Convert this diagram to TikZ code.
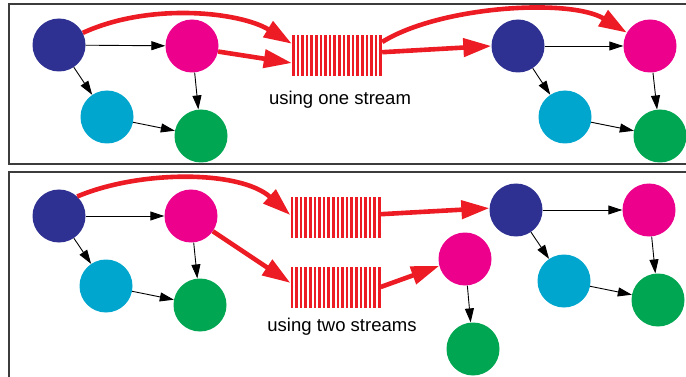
\documentclass[tikz,border=0pt]{standalone}
\usepackage{fontspec}
\setmainfont{Liberation Sans}
\usepackage{xcolor}
\usepackage{tikz}
\usetikzlibrary{positioning}
\usetikzlibrary{arrows.meta}

\definecolor{colnavy}{RGB}{46,49,146}
\definecolor{colmag}{RGB}{236,0,140}
\definecolor{colcyan}{RGB}{0,166,206}
\definecolor{colgreen}{RGB}{0,166,81}
\definecolor{colred}{RGB}{237,28,36}
\definecolor{colframe}{RGB}{60,60,60}

\begin{document}
\begin{tikzpicture}[
      x=1pt, y=-1pt,
      mynode/.style={circle,minimum size=53pt,inner sep=0pt},
      stream/.style={minimum width=94pt,minimum height=41pt,inner sep=0pt,
        path picture={\foreach \k in {0,...,19}
          \fill[colred] ([xshift=\k*4.6pt]path picture bounding box.south west)
            rectangle ([xshift=\k*4.6pt+2.6pt]path picture bounding box.north west);}},
      link/.style={-{Triangle[length=14pt,width=9pt]},line width=0.9pt},
      flow/.style={-{Triangle[length=28pt,width=18pt]},line width=4.6pt,colred},
      frame/.style={draw=colframe,line width=1.1pt},
      lbl/.style={font=\fontsize{18.5}{22}\selectfont}
      ]
      \useasboundingbox (0,0) rectangle (686,377);

      % frames
      \draw[frame] (690,4) -- (9,4) -- (9,164) -- (690,164);
      \draw[frame] (690,172) -- (9,172) -- (9,380);

      % top: one stream
      \node[mynode, fill=colnavy] (na1) at (59,45) {};
      \node[mynode, fill=colmag] (mg1) at (192,46) {};
      \node[mynode, fill=colcyan] (cy1) at (107,117) {};
      \node[mynode, fill=colgreen] (gr1) at (201,136) {};

      \node[stream] (st1) at (339,55.5) {};
      \node[lbl] (txt1) at (340,100) {using one stream};

      \node[mynode, fill=colnavy] (na2) at (518,46) {};
      \node[mynode, fill=colmag] (mg2) at (650,46) {};
      \node[mynode, fill=colcyan] (cy2) at (565,117) {};
      \node[mynode, fill=colgreen] (gr2) at (660,136) {};

      \path (na1) edge[link] (mg1)
      (na1) edge[link] (cy1)
      (cy1) edge[link] (gr1)
      (mg1) edge[link] (gr1)
      ;
      \path (na2) edge[link] (mg2)
      (na2) edge[link] (cy2)
      (cy2) edge[link] (gr2)
      (mg2) edge[link] (gr2)
      ;
      \draw[flow] (na1.27) .. controls (150,2) and (240,12) .. (st1.166);
      \draw[flow] (mg1.-12) -- (st1.189);
      \draw[flow] ([xshift=-4pt]st1.16) .. controls (440,6) and (570,-2) .. (mg2.150);
      \draw[flow] ([xshift=-4pt]st1.4) -- (na2.west);

      % bottom: two streams
      \node[mynode, fill=colnavy] (na3) at (59,216) {};
      \node[mynode, fill=colmag] (mg3) at (191,216) {};
      \node[mynode, fill=colcyan] (cy3) at (106,286) {};
      \node[mynode, fill=colgreen] (gr3) at (200,305) {};

      \node[stream] (st2) at (337.5,217.5) {};
      \node[stream] (st3) at (337.5,287) {};
      \node[lbl] (txt2) at (342,327) {using two streams};

      \node[mynode, fill=colmag] (mg4) at (465,259) {};
      \node[mynode, fill=colgreen] (gr4) at (473,349) {};

      \node[mynode, fill=colnavy] (na5) at (516,210) {};
      \node[mynode, fill=colmag] (mg5) at (649,210) {};
      \node[mynode, fill=colcyan] (cy5) at (564,281) {};
      \node[mynode, fill=colgreen] (gr5) at (658,300) {};

      \path (na3) edge[link] (mg3)
      (na3) edge[link] (cy3)
      (cy3) edge[link] (gr3)
      (mg3) edge[link] (gr3)
      (mg4) edge[link] (gr4)
      ;
      \path (na5) edge[link] (mg5)
      (na5) edge[link] (cy5)
      (cy5) edge[link] (gr5)
      (mg5) edge[link] (gr5)
      ;
      \draw[flow] (na3.47) .. controls (140,170) and (240,170) .. (st2.177);
      \draw[flow] (mg3.-35) -- (st3.175);
      \draw[flow] ([xshift=-4pt]st2.4) -- (na5.176);
      \draw[flow] ([xshift=-4pt]st3.0) -- (mg4.195);

    \end{tikzpicture}
\end{document}
